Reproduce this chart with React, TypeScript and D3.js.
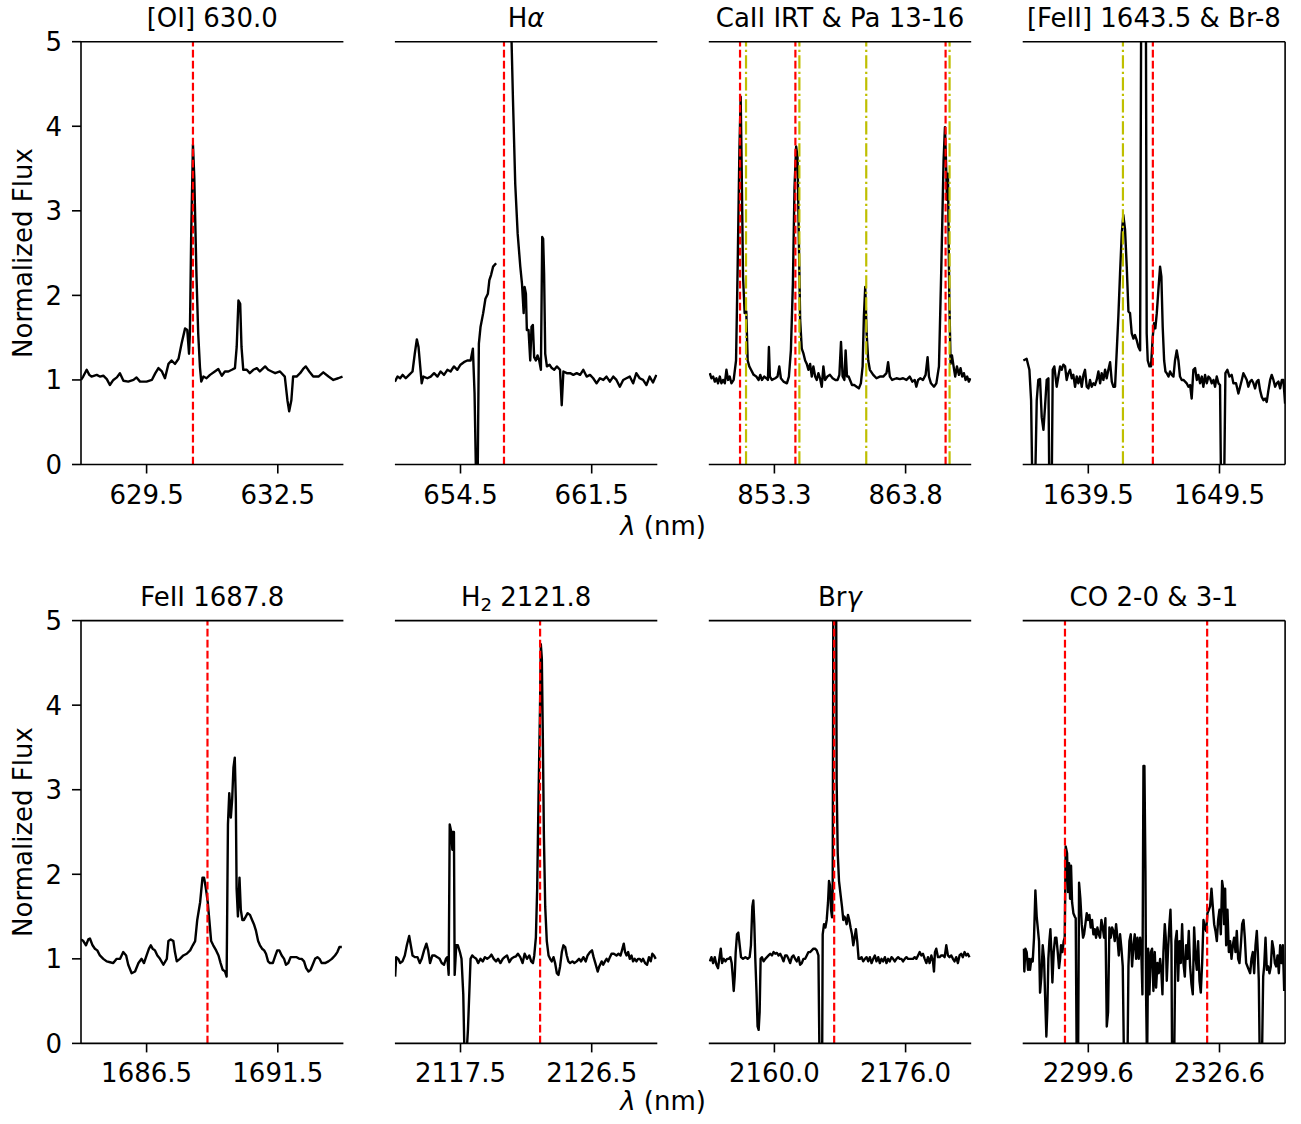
import React from 'react';
import * as d3 from 'd3';

type Pt = [number, number | null];

// ---- panel titles, wavelength windows and ticks ----
const titles = [
  '[OI] 630.0', 'Hα', 'CaII IRT & Pa 13-16', '[FeII] 1643.5 & Br-8',
  'FeII 1687.8', 'H₂ 2121.8', 'Brγ', 'CO 2-0 & 3-1',
];
const xDomains: [number, number][] = [
  [628, 634], [651, 665], [848.05, 869.05], [1634.5, 1654.5],
  [1684, 1694], [2113, 2131], [2152, 2184], [2286.1, 2340.1],
];
const xTicks: number[][] = [
  [629.5, 632.5], [654.5, 661.5], [853.3, 863.8], [1639.5, 1649.5],
  [1686.5, 1691.5], [2117.5, 2126.5], [2160.0, 2176.0], [2299.6, 2326.6],
];
const yTicks = [0, 1, 2, 3, 4, 5];

// rest wavelengths of the marked lines (red dashed) and Paschen lines (yellow dash-dot)
const redLines: number[][] = [
  [630.56], [656.82], [850.55, 854.98, 867.0], [1644.42],
  [1688.82], [2122.96], [2167.29], [2294.8, 2324.06],
];
const yellowLines: number[][] = [
  [], [], [851.03, 855.3, 860.65, 867.32], [1642.14], [], [], [], [],
];

// ---- normalized spectra ----
const specOI: Pt[] = [
  [628.00,1.00],[628.05,1.04],[628.13,1.12],[628.19,1.06],[628.24,1.04],[628.36,1.06],[628.43,1.04],[628.51,1.05],[628.59,1.01],[628.66,0.94],[628.74,1.00],[628.82,1.03],[628.89,1.08],[628.97,0.99],[629.08,0.98],[629.20,1.00],[629.27,1.03],[629.35,0.98],[629.50,0.98],[629.62,1.00],[629.70,1.08],[629.77,1.14],[629.85,1.10],[629.92,1.02],[630.00,1.19],[630.07,1.23],[630.15,1.19],[630.23,1.25],[630.30,1.43],[630.38,1.61],[630.43,1.59],[630.47,1.31],[630.49,1.55],[630.52,2.73],[630.56,3.78],[630.59,3.40],[630.64,2.24],[630.68,1.55],[630.72,1.15],[630.75,0.98],[630.80,1.04],[630.87,1.02],[630.95,1.06],[631.06,1.10],[631.14,1.13],[631.22,1.05],[631.29,1.10],[631.37,1.10],[631.45,1.12],[631.52,1.14],[631.56,1.39],[631.60,1.94],[631.64,1.90],[631.67,1.39],[631.71,1.12],[631.79,1.12],[631.86,1.08],[631.94,1.12],[632.02,1.14],[632.09,1.10],[632.21,1.16],[632.28,1.12],[632.36,1.10],[632.44,1.08],[632.55,1.10],[632.66,1.04],[632.72,0.76],[632.76,0.63],[632.81,0.76],[632.85,1.04],[632.93,1.04],[633.01,1.08],[633.08,1.13],[633.14,1.16],[633.22,1.10],[633.31,1.04],[633.43,1.04],[633.54,1.09],[633.66,1.04],[633.77,1.00],[633.88,1.02],[633.98,1.04],
];

const specHa: Pt[] = [
  [651.00,0.98],[651.14,1.04],[651.28,1.02],[651.41,1.06],[651.58,1.02],[651.76,1.06],[651.94,1.10],[652.06,1.31],[652.17,1.48],[652.26,1.39],[652.35,1.16],[652.43,0.96],[652.52,1.04],[652.73,1.02],[652.91,1.04],[653.09,1.08],[653.27,1.04],[653.44,1.10],[653.62,1.06],[653.80,1.12],[653.97,1.10],[654.15,1.16],[654.33,1.12],[654.50,1.18],[654.68,1.21],[654.86,1.23],[655.04,1.23],[655.16,1.37],[655.25,0.84],[655.34,-0.3],[655.41,-0.3],[655.48,1.43],[655.57,1.63],[655.71,1.79],[655.83,1.96],[655.96,2.02],[656.04,2.18],[656.13,2.24],[656.24,2.34],[656.40,2.38],
  [656.78,null],
  [657.16,5.6],[657.30,4.31],[657.42,3.32],[657.55,2.73],[657.69,2.34],[657.78,2.14],[657.87,1.79],[657.92,2.10],[657.99,2.02],[658.04,1.59],[658.13,1.59],[658.22,1.23],[658.29,1.63],[658.36,1.65],[658.43,1.27],[658.52,1.23],[658.61,1.29],[658.70,1.23],[658.79,1.12],[658.86,2.69],[658.91,2.67],[658.96,2.26],[659.02,1.31],[659.11,1.16],[659.25,1.18],[659.37,1.14],[659.50,1.12],[659.64,1.16],[659.81,1.12],[659.90,0.70],[659.99,1.10],[660.17,1.08],[660.35,1.08],[660.52,1.06],[660.70,1.08],[660.88,1.06],[661.05,1.12],[661.23,1.04],[661.41,1.06],[661.58,1.02],[661.76,0.96],[661.94,1.02],[662.12,1.00],[662.29,1.04],[662.47,0.98],[662.65,1.04],[662.82,1.00],[663.00,0.92],[663.18,1.00],[663.35,1.02],[663.53,1.04],[663.71,0.96],[663.88,1.08],[664.06,1.02],[664.24,1.00],[664.42,0.94],[664.59,1.04],[664.77,0.97],[664.95,1.06],
];

const specCa: Pt[] = [
  [848.13,1.08],[848.26,1.02],[848.40,1.04],[848.53,0.98],[848.66,1.02],[848.79,0.96],[848.93,1.04],[849.06,0.96],[849.19,1.00],[849.33,0.96],[849.46,1.12],[849.59,1.00],[849.72,1.04],[849.86,0.96],[850.04,1.00],[850.23,1.23],[850.36,2.34],[850.50,3.72],[850.60,4.35],[850.68,3.52],[850.79,2.22],[850.92,1.79],[851.05,1.81],[851.16,1.23],[851.29,1.16],[851.43,1.12],[851.64,1.06],[851.85,1.04],[852.04,1.00],[852.17,1.06],[852.30,1.00],[852.49,1.04],[852.65,1.02],[852.78,1.00],[852.86,1.39],[852.94,1.04],[853.10,1.00],[853.37,1.02],[853.55,1.04],[853.69,1.16],[853.82,1.02],[854.03,0.98],[854.30,0.96],[854.46,1.04],[854.62,1.35],[854.78,2.14],[854.91,3.28],[855.04,3.76],[855.15,3.64],[855.25,2.73],[855.36,1.71],[855.49,1.37],[855.63,1.31],[855.76,1.23],[855.89,1.19],[856.02,1.12],[856.16,1.19],[856.29,1.04],[856.42,1.16],[856.56,1.04],[856.69,1.00],[856.82,1.08],[856.95,1.02],[857.09,0.92],[857.22,1.16],[857.35,1.00],[857.54,1.04],[857.75,1.06],[857.96,1.02],[858.18,1.00],[858.36,1.00],[858.50,1.06],[858.63,1.45],[858.76,1.04],[858.90,1.00],[859.00,1.35],[859.11,1.04],[859.24,1.04],[859.35,1.00],[859.51,0.94],[859.69,0.94],[859.88,0.92],[860.06,0.90],[860.22,0.96],[860.36,1.16],[860.46,1.75],[860.57,2.10],[860.68,1.55],[860.81,1.23],[860.94,1.12],[861.21,1.06],[861.47,1.02],[861.74,1.04],[862.01,1.04],[862.27,1.08],[862.40,1.21],[862.54,1.04],[862.72,1.00],[863.07,1.02],[863.34,1.01],[863.60,1.02],[863.87,1.00],[864.13,1.04],[864.34,0.98],[864.53,1.00],[864.66,0.92],[864.80,1.00],[864.98,1.02],[865.19,1.00],[865.40,1.06],[865.56,1.27],[865.67,1.04],[865.83,0.96],[866.07,0.92],[866.26,0.96],[866.47,1.16],[866.66,2.34],[866.84,3.60],[866.95,3.99],[867.03,3.60],[867.11,3.13],[867.19,3.44],[867.30,1.94],[867.40,1.19],[867.51,1.29],[867.64,1.16],[867.77,1.04],[867.91,1.16],[868.07,1.06],[868.20,1.14],[868.33,1.04],[868.46,1.08],[868.60,1.00],[868.73,1.04],[868.86,0.98],[868.99,1.02],
];

const specFe16: Pt[] = [
  [1634.55,1.23],[1634.80,1.25],[1635.01,1.12],[1635.14,0.76],[1635.24,-0.3],[1635.44,-0.3],[1635.57,0.76],[1635.69,1.00],[1635.82,1.01],[1635.95,0.56],[1636.08,0.41],[1636.20,0.68],[1636.33,1.00],[1636.46,1.02],[1636.53,-0.3],[1636.71,-0.3],[1636.79,1.12],[1636.91,1.16],[1637.09,0.92],[1637.22,1.04],[1637.35,1.16],[1637.47,1.12],[1637.60,1.18],[1637.73,1.16],[1637.85,1.00],[1637.98,1.08],[1638.11,1.12],[1638.24,1.02],[1638.36,1.06],[1638.49,0.92],[1638.62,1.04],[1638.74,0.96],[1638.87,1.04],[1639.00,0.92],[1639.13,1.06],[1639.25,1.12],[1639.38,0.92],[1639.51,0.90],[1639.63,1.00],[1639.76,0.92],[1639.89,0.96],[1640.01,0.94],[1640.14,1.00],[1640.27,1.10],[1640.40,0.96],[1640.52,1.08],[1640.65,1.00],[1640.78,1.12],[1640.90,1.02],[1641.03,1.12],[1641.16,1.21],[1641.29,0.98],[1641.41,0.92],[1641.54,0.92],[1641.67,1.35],[1641.79,1.75],[1641.92,2.26],[1642.05,2.73],[1642.17,2.95],[1642.30,2.78],[1642.43,2.34],[1642.56,1.81],[1642.68,1.79],[1642.81,1.55],[1642.94,1.49],[1643.06,1.53],[1643.19,1.47],[1643.32,1.39],[1643.45,1.35],[1643.58,8.0],[1643.85,8.0],[1643.95,1.55],[1644.03,1.23],[1644.16,1.16],[1644.28,1.16],[1644.41,1.51],[1644.51,1.67],[1644.61,1.61],[1644.72,1.79],[1644.84,2.06],[1644.97,2.34],[1645.07,2.22],[1645.17,1.63],[1645.28,1.23],[1645.38,1.10],[1645.48,1.08],[1645.61,1.04],[1645.73,1.10],[1645.86,1.06],[1645.99,1.04],[1646.11,1.23],[1646.24,1.35],[1646.37,1.23],[1646.49,1.04],[1646.62,1.00],[1646.75,1.00],[1646.88,0.98],[1647.00,0.96],[1647.13,0.92],[1647.26,0.94],[1647.38,0.78],[1647.51,1.12],[1647.64,1.14],[1647.77,1.00],[1647.89,1.06],[1648.02,0.96],[1648.15,1.04],[1648.27,0.92],[1648.40,1.06],[1648.53,0.96],[1648.66,1.04],[1648.78,1.02],[1648.91,0.96],[1649.04,1.00],[1649.16,0.92],[1649.29,1.04],[1649.42,0.96],[1649.54,0.94],[1649.62,-0.3],[1649.85,-0.3],[1649.95,1.08],[1650.10,1.12],[1650.26,1.04],[1650.43,1.06],[1650.56,0.96],[1650.76,0.96],[1650.94,0.84],[1651.07,0.92],[1651.20,1.00],[1651.32,1.08],[1651.45,1.04],[1651.58,1.00],[1651.70,0.92],[1651.83,0.98],[1651.96,1.00],[1652.09,0.96],[1652.21,0.90],[1652.34,0.98],[1652.47,1.00],[1652.59,0.88],[1652.72,0.80],[1652.85,0.76],[1652.98,0.78],[1653.10,0.74],[1653.23,0.88],[1653.36,1.00],[1653.48,1.06],[1653.61,1.00],[1653.74,0.92],[1653.86,0.96],[1653.99,0.98],[1654.12,0.90],[1654.25,1.00],[1654.37,1.00],[1654.50,0.72],
];

const specFe17: Pt[] = [
  [1684.00,1.23],[1684.09,1.21],[1684.19,1.16],[1684.28,1.23],[1684.34,1.24],[1684.44,1.16],[1684.53,1.12],[1684.62,1.10],[1684.72,1.04],[1684.85,1.00],[1684.98,0.97],[1685.11,0.96],[1685.23,0.95],[1685.36,1.00],[1685.49,1.00],[1685.61,1.08],[1685.72,1.04],[1685.80,0.93],[1685.93,0.83],[1686.06,0.85],[1686.19,0.95],[1686.31,1.00],[1686.40,0.95],[1686.50,1.04],[1686.59,1.12],[1686.66,1.16],[1686.73,1.12],[1686.82,1.10],[1686.91,1.04],[1687.01,1.00],[1687.14,0.93],[1687.27,1.00],[1687.33,1.21],[1687.42,1.23],[1687.52,1.21],[1687.58,1.08],[1687.65,0.97],[1687.77,1.00],[1687.90,1.04],[1688.03,1.06],[1688.16,1.10],[1688.26,1.16],[1688.35,1.21],[1688.43,1.46],[1688.54,1.67],[1688.63,1.96],[1688.69,1.96],[1688.76,1.83],[1688.83,1.67],[1688.89,1.46],[1688.96,1.21],[1689.04,1.16],[1689.15,1.10],[1689.24,1.04],[1689.32,0.95],[1689.40,0.87],[1689.49,0.85],[1689.55,0.79],[1689.60,2.59],[1689.65,2.96],[1689.71,2.67],[1689.76,2.88],[1689.81,3.26],[1689.86,3.38],[1689.90,2.88],[1689.93,1.83],[1689.98,1.50],[1690.04,1.96],[1690.09,1.58],[1690.15,1.46],[1690.21,1.46],[1690.28,1.50],[1690.35,1.54],[1690.44,1.52],[1690.52,1.46],[1690.59,1.41],[1690.67,1.33],[1690.75,1.21],[1690.82,1.16],[1690.90,1.12],[1690.98,1.10],[1691.05,1.06],[1691.13,0.97],[1691.20,0.95],[1691.31,0.95],[1691.41,1.04],[1691.48,1.10],[1691.56,1.10],[1691.65,1.04],[1691.74,1.00],[1691.81,0.93],[1691.90,0.95],[1691.99,1.02],[1692.09,1.02],[1692.22,1.02],[1692.32,1.00],[1692.41,1.00],[1692.50,0.97],[1692.58,0.89],[1692.67,0.85],[1692.75,0.87],[1692.83,0.93],[1692.92,1.00],[1693.01,1.02],[1693.09,1.00],[1693.17,0.95],[1693.30,0.95],[1693.43,0.97],[1693.56,1.00],[1693.68,1.04],[1693.77,1.08],[1693.85,1.14],[1693.94,1.14],
];

const specH2: Pt[] = [
  [2113.02,0.79],[2113.09,1.02],[2113.23,1.00],[2113.36,0.95],[2113.52,0.97],[2113.68,1.04],[2113.82,1.16],[2113.98,1.27],[2114.09,1.16],[2114.21,1.04],[2114.37,1.02],[2114.55,1.02],[2114.71,0.95],[2114.84,1.00],[2115.00,1.10],[2115.16,1.18],[2115.28,1.10],[2115.41,0.95],[2115.57,1.04],[2115.73,1.04],[2115.91,1.02],[2116.07,1.00],[2116.21,0.95],[2116.37,0.93],[2116.50,1.00],[2116.60,1.02],[2116.69,0.81],[2116.76,2.59],[2116.87,2.50],[2116.94,2.29],[2116.98,2.50],[2117.05,2.50],[2117.10,0.81],[2117.21,1.16],[2117.32,1.16],[2117.46,1.08],[2117.57,1.00],[2117.69,0.58],[2117.78,-0.2],[2117.89,-0.2],[2118.01,0.16],[2118.10,0.58],[2118.19,1.00],[2118.30,1.04],[2118.42,1.02],[2118.58,1.00],[2118.71,0.95],[2118.87,1.00],[2119.03,0.97],[2119.17,1.02],[2119.33,1.00],[2119.49,1.02],[2119.62,1.05],[2119.78,1.00],[2119.94,0.97],[2120.08,1.00],[2120.24,0.95],[2120.40,1.00],[2120.53,1.02],[2120.69,1.04],[2120.85,0.96],[2120.99,1.00],[2121.15,1.02],[2121.31,1.03],[2121.44,1.06],[2121.60,1.02],[2121.76,0.95],[2121.90,1.06],[2122.06,1.00],[2122.22,1.04],[2122.35,0.97],[2122.47,0.95],[2122.56,1.04],[2122.67,1.25],[2122.76,1.83],[2122.85,2.88],[2122.95,3.92],[2123.01,4.72],[2123.08,4.55],[2123.15,3.59],[2123.22,2.46],[2123.31,1.62],[2123.42,1.21],[2123.54,1.04],[2123.65,1.00],[2123.76,0.97],[2123.88,1.02],[2123.99,0.95],[2124.11,0.83],[2124.22,0.81],[2124.33,0.91],[2124.45,1.08],[2124.56,1.16],[2124.68,1.14],[2124.79,1.04],[2124.90,0.97],[2125.02,0.95],[2125.18,0.97],[2125.31,0.95],[2125.47,0.97],[2125.63,1.00],[2125.77,0.97],[2125.93,1.02],[2126.09,0.97],[2126.22,1.04],[2126.38,1.08],[2126.52,1.10],[2126.63,1.02],[2126.75,0.95],[2126.91,0.85],[2127.02,0.91],[2127.18,0.97],[2127.29,0.93],[2127.41,0.97],[2127.52,1.00],[2127.63,0.97],[2127.75,1.02],[2127.86,1.06],[2128.02,1.06],[2128.20,1.04],[2128.34,1.06],[2128.48,1.04],[2128.61,1.12],[2128.70,1.18],[2128.79,1.08],[2128.89,1.04],[2129.00,1.08],[2129.11,1.00],[2129.23,1.04],[2129.34,0.97],[2129.45,1.00],[2129.57,0.97],[2129.68,1.00],[2129.80,1.00],[2129.91,0.97],[2130.02,1.00],[2130.16,0.95],[2130.30,0.93],[2130.43,1.02],[2130.55,0.97],[2130.66,1.06],[2130.77,1.04],[2130.89,1.00],
];

const specBrg: Pt[] = [
  [2152.12,0.97],[2152.32,1.02],[2152.53,0.95],[2152.73,1.02],[2152.93,0.93],[2153.13,0.89],[2153.34,1.04],[2153.46,1.12],[2153.62,0.95],[2153.82,1.00],[2154.03,0.97],[2154.23,1.00],[2154.43,1.00],[2154.63,1.02],[2154.79,0.95],[2154.92,0.79],[2155.04,0.62],[2155.16,0.79],[2155.28,1.08],[2155.44,1.29],[2155.60,1.31],[2155.77,1.16],[2155.93,1.02],[2156.17,1.00],[2156.46,1.02],[2156.74,1.00],[2156.98,1.02],[2157.14,1.16],[2157.31,1.62],[2157.43,1.69],[2157.55,1.41],[2157.67,1.00],[2157.83,0.58],[2157.95,0.20],[2158.08,0.16],[2158.20,0.37],[2158.32,1.00],[2158.48,1.02],[2158.68,0.97],[2158.89,1.00],[2159.09,1.02],[2159.29,1.04],[2159.49,1.06],[2159.70,1.04],[2159.90,1.08],[2160.10,1.06],[2160.30,1.07],[2160.51,1.04],[2160.71,1.06],[2160.91,1.02],[2161.11,0.97],[2161.32,1.04],[2161.52,1.04],[2161.72,1.00],[2161.92,0.95],[2162.13,1.02],[2162.33,1.04],[2162.53,1.00],[2162.73,0.97],[2162.94,1.02],[2163.14,0.93],[2163.34,0.95],[2163.54,1.00],[2163.75,1.00],[2163.95,1.04],[2164.15,1.08],[2164.35,1.08],[2164.56,1.10],[2164.76,1.12],[2164.96,1.12],[2165.16,1.10],[2165.37,1.04],[2165.53,-0.5],[2165.65,-0.8],[2165.81,-0.5],[2165.89,1.29],[2166.05,1.41],[2166.22,1.37],[2166.38,1.46],[2166.54,1.67],[2166.66,1.92],[2166.78,1.87],[2166.91,1.58],[2167.03,1.49],[2167.11,1.83],[2167.27,9.0],[2167.43,9.0],[2167.59,3.09],[2167.72,2.25],[2167.88,1.92],[2168.08,1.75],[2168.24,1.62],[2168.40,1.46],[2168.53,1.50],[2168.65,1.48],[2168.81,1.41],[2168.97,1.52],[2169.13,1.46],[2169.29,1.37],[2169.46,1.29],[2169.62,1.16],[2169.78,1.25],[2169.94,1.35],[2170.10,1.21],[2170.27,1.00],[2170.43,1.00],[2170.63,1.02],[2170.83,0.97],[2171.04,1.00],[2171.24,1.02],[2171.44,0.97],[2171.64,1.02],[2171.85,0.95],[2172.05,1.00],[2172.25,1.04],[2172.45,0.97],[2172.66,1.02],[2172.86,0.95],[2173.06,1.00],[2173.26,0.97],[2173.47,1.02],[2173.67,0.95],[2173.87,1.00],[2174.07,0.97],[2174.28,1.02],[2174.48,1.00],[2174.68,0.97],[2174.88,1.00],[2175.09,1.02],[2175.29,1.00],[2175.49,1.00],[2175.69,0.97],[2175.90,1.00],[2176.10,1.02],[2176.30,1.00],[2176.50,1.00],[2176.71,1.00],[2176.91,1.00],[2177.11,1.02],[2177.31,1.00],[2177.52,1.04],[2177.72,1.08],[2177.92,1.04],[2178.12,1.06],[2178.33,1.00],[2178.53,0.95],[2178.73,1.02],[2178.93,0.95],[2179.14,1.04],[2179.34,0.97],[2179.46,0.85],[2179.58,1.08],[2179.74,1.12],[2179.95,1.02],[2180.15,1.02],[2180.35,1.04],[2180.55,1.04],[2180.76,1.02],[2180.96,1.16],[2181.16,1.04],[2181.36,1.02],[2181.57,1.04],[2181.77,1.00],[2181.97,0.97],[2182.17,1.02],[2182.38,0.95],[2182.58,1.04],[2182.78,1.06],[2182.98,1.02],[2183.19,1.08],[2183.39,1.04],[2183.59,1.06],[2183.79,1.02],
];

const specCO: Pt[] = [
  [2286.24,1.12],[2286.44,0.85],[2286.65,1.12],[2286.92,1.08],[2287.20,0.87],[2287.40,1.00],[2287.61,0.87],[2287.88,1.00],[2288.16,0.97],[2288.43,1.25],[2288.71,1.81],[2288.98,1.50],[2289.26,1.33],[2289.46,1.21],[2289.67,0.60],[2289.94,0.79],[2290.22,1.16],[2290.49,1.00],[2290.70,0.58],[2290.97,0.08],[2291.18,0.41],[2291.38,1.00],[2291.59,1.21],[2291.80,1.35],[2292.00,1.08],[2292.21,0.72],[2292.48,1.08],[2292.76,1.25],[2293.03,1.25],[2293.31,1.08],[2293.58,0.89],[2293.79,1.00],[2293.99,1.16],[2294.27,1.08],[2294.54,1.21],[2294.75,1.25],[2294.95,2.33],[2295.23,2.25],[2295.43,1.79],[2295.64,2.13],[2295.85,1.71],[2296.05,2.10],[2296.26,1.67],[2296.53,1.54],[2296.81,1.50],[2297.01,1.48],[2297.22,-0.3],[2297.49,-0.3],[2297.70,1.90],[2297.97,1.71],[2298.25,1.41],[2298.52,1.25],[2298.73,1.29],[2299.00,1.41],[2299.28,1.54],[2299.55,1.46],[2299.83,1.52],[2300.10,1.37],[2300.38,1.46],[2300.65,1.29],[2300.93,1.35],[2301.20,1.25],[2301.47,1.37],[2301.75,1.29],[2302.02,1.25],[2302.30,1.46],[2302.57,1.37],[2302.85,1.25],[2303.12,1.48],[2303.40,0.20],[2303.67,0.37],[2303.94,1.37],[2304.22,1.25],[2304.49,1.37],[2304.77,1.33],[2305.04,1.21],[2305.32,1.41],[2305.59,1.25],[2305.87,1.04],[2306.14,1.29],[2306.42,1.12],[2306.69,0.91],[2306.96,-0.3],[2307.38,-0.3],[2307.65,-0.3],[2307.86,0.91],[2308.06,1.21],[2308.34,1.29],[2308.61,0.91],[2308.89,1.16],[2309.16,1.29],[2309.44,1.00],[2309.71,1.25],[2309.98,1.00],[2310.26,1.25],[2310.53,1.04],[2310.74,0.58],[2310.95,3.28],[2311.15,3.28],[2311.36,2.04],[2311.49,0.58],[2311.70,-0.3],[2311.91,1.12],[2312.18,0.58],[2312.46,1.08],[2312.73,1.12],[2313.00,0.62],[2313.28,1.08],[2313.55,0.66],[2313.83,0.95],[2314.10,0.83],[2314.38,1.00],[2314.65,0.83],[2314.86,0.58],[2315.06,1.08],[2315.34,1.41],[2315.54,1.25],[2315.75,0.74],[2316.02,1.12],[2316.30,1.41],[2316.51,1.58],[2316.71,1.16],[2316.85,-0.3],[2317.26,-0.3],[2317.53,1.21],[2317.81,1.33],[2318.08,0.74],[2318.36,1.21],[2318.63,0.95],[2318.91,1.41],[2319.18,0.95],[2319.46,0.79],[2319.73,1.16],[2320.01,1.00],[2320.28,1.33],[2320.55,0.91],[2320.83,0.70],[2321.10,0.58],[2321.38,1.37],[2321.65,1.04],[2321.93,0.87],[2322.20,1.21],[2322.48,0.74],[2322.75,0.60],[2323.03,0.95],[2323.30,1.46],[2323.57,1.37],[2323.85,1.33],[2324.12,1.54],[2324.40,1.58],[2324.67,1.62],[2324.95,1.83],[2325.22,1.62],[2325.50,1.41],[2325.77,1.33],[2326.05,1.21],[2326.32,1.46],[2326.59,1.58],[2326.87,1.29],[2327.14,1.92],[2327.35,1.83],[2327.55,1.41],[2327.76,1.83],[2327.97,1.16],[2328.24,1.58],[2328.52,1.08],[2328.79,1.21],[2329.07,1.00],[2329.34,1.16],[2329.61,1.25],[2329.89,1.08],[2330.16,1.33],[2330.44,1.00],[2330.71,0.95],[2330.99,1.16],[2331.26,1.41],[2331.54,1.46],[2331.81,1.25],[2332.08,0.95],[2332.36,0.91],[2332.63,0.87],[2332.91,0.83],[2333.18,1.00],[2333.46,1.08],[2333.73,0.83],[2334.01,1.16],[2334.28,1.33],[2334.49,1.08],[2334.69,0.74],[2334.90,-0.3],[2335.31,-0.3],[2335.59,0.79],[2335.79,0.91],[2336.07,1.25],[2336.34,0.87],[2336.61,0.91],[2336.89,0.83],[2337.16,0.91],[2337.44,1.21],[2337.71,1.12],[2337.99,0.95],[2338.26,0.91],[2338.54,1.04],[2338.81,0.83],[2339.09,1.16],[2339.36,0.95],[2339.64,1.16],[2339.91,0.62],
];

const spectra: Pt[][] = [specOI, specHa, specCa, specFe16, specFe17, specH2, specBrg, specCO];

// ---- figure geometry ----
const FIG_W = 1301;
const FIG_H = 1124;
const AX_W = 262.4;
const AX_H = 422.8;
const colLeft = [81, 394.9, 708.8, 1022.7];
const rowTop = [41.7, 620.6];
const FONT = '"DejaVu Sans", Verdana, sans-serif';
const FS = 26;
const TICK = 9;

function Title({ text, x, y }: { text: string; x: number; y: number }) {
  // Greek letters set in italic, '₂' as a subscript
  const parts: React.ReactNode[] = [];
  let buf = '';
  let key = 0;
  let shifted = false;
  const flush = () => {
    if (buf) {
      parts.push(
        <tspan key={key++} dy={shifted ? -5 : undefined}>{buf}</tspan>
      );
      shifted = false;
      buf = '';
    }
  };
  for (const ch of text) {
    if (/[α-ω]/.test(ch)) {
      flush();
      parts.push(<tspan key={key++} fontStyle="italic">{ch}</tspan>);
    } else if (ch === '₂') {
      flush();
      parts.push(<tspan key={key++} fontSize={FS * 0.7} dy={5}>2</tspan>);
      shifted = true;
    } else {
      buf += ch;
    }
  }
  flush();
  return (
    <text x={x} y={y} textAnchor="middle" fontSize={FS} fontFamily={FONT} fill="#000">
      {parts}
    </text>
  );
}

function Panel({ idx }: { idx: number }) {
  const col = idx % 4;
  const row = Math.floor(idx / 4);
  const left = colLeft[col];
  const top = rowTop[row];
  const right = left + AX_W;
  const bottom = top + AX_H;

  const x = d3.scaleLinear().domain(xDomains[idx]).range([left, right]);
  const y = d3.scaleLinear().domain([0, 5]).range([bottom, top]);

  const line = d3
    .line<Pt>()
    .defined((d) => d[1] !== null)
    .x((d) => x(d[0]))
    .y((d) => y(d[1] as number));

  const clipId = `clip-${idx}`;
  const fmt = d3.format('.1f');

  return (
    <g>
      <defs>
        <clipPath id={clipId}>
          <rect x={left} y={top} width={AX_W} height={AX_H} />
        </clipPath>
      </defs>

      <g clipPath={`url(#${clipId})`}>
        <path
          d={line(spectra[idx]) || ''}
          fill="none"
          stroke="#000"
          strokeWidth={2.4}
          strokeLinejoin="round"
        />
        {redLines[idx].map((v, i) => (
          <line
            key={`r${i}`}
            x1={x(v)} x2={x(v)} y1={bottom} y2={top}
            stroke="#ff0000" strokeWidth={2.2} strokeDasharray="7.7 3.3"
          />
        ))}
        {yellowLines[idx].map((v, i) => (
          <line
            key={`y${i}`}
            x1={x(v)} x2={x(v)} y1={bottom} y2={top}
            stroke="#bfbf00" strokeWidth={2.2} strokeDasharray="13.3 3.3 2.1 3.3"
          />
        ))}
      </g>

      {/* spines */}
      <line x1={left} x2={right} y1={top} y2={top} stroke="#000" strokeWidth={1.6} />
      <line x1={left} x2={right} y1={bottom} y2={bottom} stroke="#000" strokeWidth={1.6} />
      {col === 0 && (
        <line x1={left} x2={left} y1={top} y2={bottom} stroke="#000" strokeWidth={1.6} />
      )}
      {col === 3 && (
        <line x1={right} x2={right} y1={top} y2={bottom} stroke="#000" strokeWidth={1.6} />
      )}

      {/* x ticks */}
      {xTicks[idx].map((t) => (
        <g key={t}>
          <line x1={x(t)} x2={x(t)} y1={bottom} y2={bottom + TICK} stroke="#000" strokeWidth={1.6} />
          <text
            x={x(t)} y={bottom + 39}
            textAnchor="middle" fontSize={FS} fontFamily={FONT} fill="#000"
          >
            {fmt(t)}
          </text>
        </g>
      ))}

      {/* y ticks on the first column */}
      {col === 0 &&
        yTicks.map((t) => (
          <g key={t}>
            <line x1={left - TICK} x2={left} y1={y(t)} y2={y(t)} stroke="#000" strokeWidth={1.6} />
            <text
              x={left - 19} y={y(t) + 9.4}
              textAnchor="end" fontSize={FS} fontFamily={FONT} fill="#000"
            >
              {t}
            </text>
          </g>
        ))}

      {col === 0 && (
        <text
          transform={`translate(31.5, ${(top + bottom) / 2}) rotate(-90)`}
          textAnchor="middle" fontSize={FS} fontFamily={FONT} fill="#000"
        >
          Normalized Flux
        </text>
      )}

      <Title text={titles[idx]} x={(left + right) / 2} y={top - 14.5} />
    </g>
  );
}

export default function App() {
  return (
    <svg
      width={FIG_W}
      height={FIG_H}
      viewBox={`0 0 ${FIG_W} ${FIG_H}`}
      style={{ position: 'absolute', left: 0, top: 0, background: '#fff' }}
    >
      <rect x={0} y={0} width={FIG_W} height={FIG_H} fill="#fff" />
      {titles.map((_, i) => (
        <Panel key={i} idx={i} />
      ))}
      {[535, 1110].map((yy) => (
        <text key={yy} x={663} y={yy} textAnchor="middle" fontSize={FS} fontFamily={FONT} fill="#000">
          <tspan fontStyle="italic">λ</tspan> (nm)
        </text>
      ))}
    </svg>
  );
}
